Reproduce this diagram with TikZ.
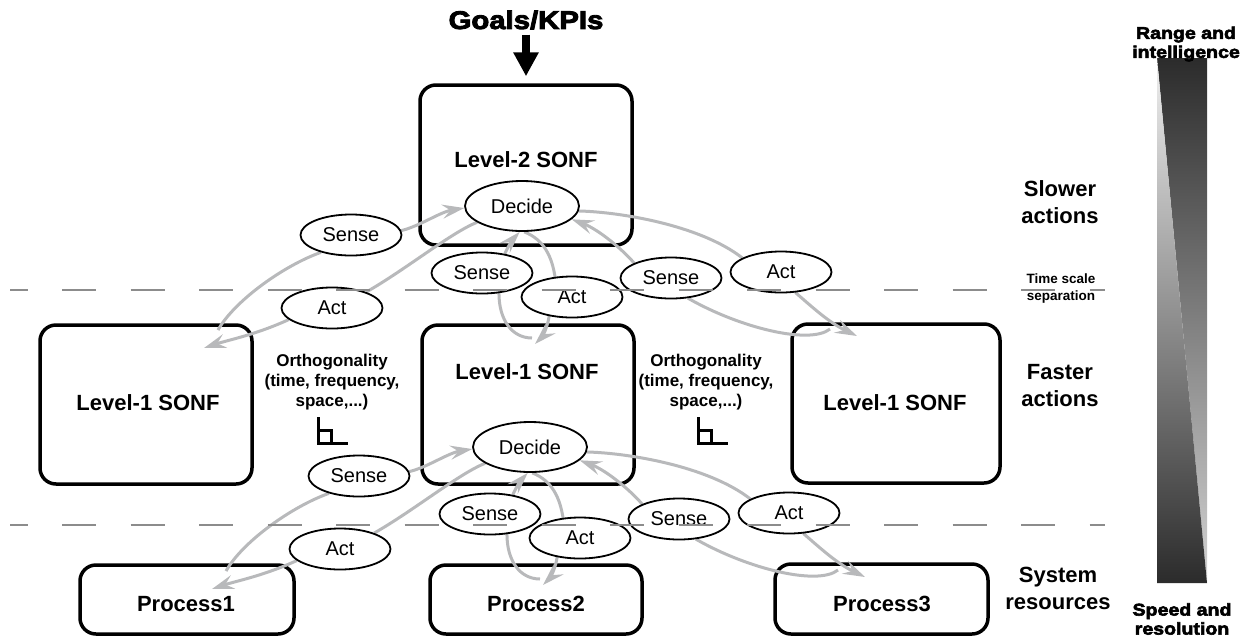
\documentclass[tikz,border=0pt]{standalone}
\usepackage{fontspec}
\setmainfont{Liberation Sans}
\newfontfamily\blk{Liberation Sans}[BoldFeatures={FakeBold=3.5,FakeStretch=1.15}]
\usetikzlibrary{shapes.geometric,arrows.meta}
\pgfdeclarelayer{bg}\pgfdeclarelayer{arr}\pgfdeclarelayer{fg}
\pgfsetlayers{bg,arr,main,fg}
\definecolor{arrgray}{HTML}{B8B9BB}
\definecolor{dashgray}{HTML}{8C8C8C}
\newcommand\labfont{\bfseries\fontsize{22}{27}\selectfont}
\newcommand\ortfont{\bfseries\fontsize{17}{20}\selectfont}
\newcommand\blkfont{\blk\bfseries\fontsize{17}{19}\selectfont}
\tikzset{
  box/.style={draw, line width=3.5pt, rounded corners=16pt, inner sep=0pt},
  ell/.style={ellipse, draw, fill=white, line width=1.8pt, inner sep=0pt,
    minimum width=101pt, minimum height=41pt, font=\fontsize{20}{24}\selectfont},
  dec/.style={ell, minimum width=114pt, minimum height=50pt},
  gline/.style={draw=arrgray, line width=3pt},
  garrow/.style={gline, -{Stealth[length=22pt,width=14pt,inset=8pt]}},
  sepline/.style={draw=dashgray, line width=2pt, dash pattern=on 34pt off 34.5pt, dash phase=16.5pt},
  lbl/.style={font=\labfont, align=center, inner sep=0pt},
  ort/.style={font=\ortfont, align=center, inner sep=0pt},
}
\newcommand\sonfgroup[3]{%
\begin{scope}[shift={(#2,#3)}]
  \node[dec] (#1d) at (522,206) {Decide};
  \node[ell] (#1sa) at (351,235) {Sense};
  \node[ell] (#1aa) at (332,308) {Act};
  \node[ell] (#1sb) at (482,273) {Sense};
  \node[ell] (#1ab) at (572,297) {Act};
  \node[ell] (#1sc) at (671,278) {Sense};
  \node[ell] (#1ac) at (781,272) {Act};
  \coordinate (#1ia) at (218,330);
  \coordinate (#1oa) at (204,348);
  \coordinate (#1ib) at (532,338);
  \coordinate (#1ob) at (535,344);
  \coordinate (#1ic) at (830,329);
  \coordinate (#1oc) at (857,336);
  \begin{pgfonlayer}{arr}
    \draw[gline] (#1ia) .. controls (235,300) and (285,265) .. (#1sa.210);
    \draw[garrow] (#1sa.5) .. controls (420,226) and (440,212) .. (#1d.182);
    \draw[gline] (#1d.200) .. controls (452,232) and (405,270) .. (#1aa.25);
    \draw[garrow] (#1aa.195) .. controls (255,335) and (228,340) .. (#1oa);
    \draw[gline] (#1ib) .. controls (512,338) and (499,320) .. (#1sb.-50);
    \draw[garrow] (#1sb.40) .. controls (508,246) and (514,238) .. (#1d.-95);
    \draw[gline] (#1d.-85) .. controls (545,240) and (552,258) .. (#1ab.130);
    \draw[garrow] (#1ab.-140) .. controls (547,330) and (541,338) .. (#1ob);
    \draw[gline] (#1ic) .. controls (810,345) and (740,328) .. (#1sc.-50);
    \draw[garrow] (#1sc.158) .. controls (625,252) and (600,230) .. (#1d.-15);
    \draw[gline] (#1d.-5) .. controls (620,212) and (700,225) .. (#1ac.160);
    \draw[garrow] (#1ac.-55) .. controls (810,305) and (828,322) .. (#1oc);
  \end{pgfonlayer}
\end{scope}}
\begin{document}
\begin{tikzpicture}[x=1pt, y=-1pt]
\useasboundingbox (0,0) rectangle (1251,638);
% boxes
\begin{pgfonlayer}{bg}
  \node[box, minimum width=212pt, minimum height=160pt] (L2) at (526,165) {};
  \node[box, minimum width=212pt, minimum height=159pt] (L1L) at (146,404.5) {};
  \node[box, minimum width=212pt, minimum height=159pt] (L1M) at (528,404.5) {};
  \node[box, minimum width=208pt, minimum height=159pt] (L1R) at (896,403.5) {};
  \node[box, minimum width=214pt, minimum height=69pt] (P1) at (187,599.5) {};
  \node[box, minimum width=212pt, minimum height=69pt] (P2) at (536,599.5) {};
  \node[box, minimum width=213pt, minimum height=70pt] (P3) at (881.5,599) {};
\end{pgfonlayer}
\node[lbl] (tL2) at (526,160) {Level-2 SONF};
\node[lbl] (tL1L) at (148,403) {Level-1 SONF};
\node[lbl] (tL1M) at (527,372) {Level-1 SONF};
\node[lbl] (tL1R) at (895,403) {Level-1 SONF};
\node[lbl] (tP1) at (186,604) {Process1};
\node[lbl] (tP2) at (536,604) {Process2};
\node[lbl] (tP3) at (882,604) {Process3};
% goals
\node[font=\blk\bfseries\fontsize{25.5}{30}\selectfont, inner sep=0pt] (goals) at (526,20) {Goals/KPIs};
\draw[line width=8pt, -{Triangle[length=24pt,width=24pt]}] ([yshift=-5pt]goals.south) -- ([yshift=7pt]L2.north);
% groups
\sonfgroup{u}{0}{0}
\sonfgroup{w}{8}{241}
% orthogonality
\node[ort] (o1) at (332,382) {Orthogonality\\(time, frequency,\\space,...)};
\node[ort] (o2) at (706,382) {Orthogonality\\(time, frequency,\\space,...)};
\draw[line width=3pt] (318,417) -- (318,443) -- (348,443);
\draw[line width=3pt] (318,430) -- (331,430) -- (331,443);
\draw[line width=3pt] (698,417) -- (698,443) -- (728,443);
\draw[line width=3pt] (698,430) -- (711,430) -- (711,443);
% separation lines
\begin{pgfonlayer}{fg}
  \coordinate (s1a) at (10,290); \coordinate (s1b) at (1105,290);
  \coordinate (s2a) at (10,525); \coordinate (s2b) at (1105,525);
  \draw[sepline] (s1a) -- (s1b);
  \draw[sepline] (s2a) -- (s2b);
\end{pgfonlayer}
% right labels
\node[lbl] (slow) at (1060,202) {Slower\\actions};
\node[font=\bfseries\fontsize{13.5}{17}\selectfont, align=center, inner sep=0pt] (tss) at (1061,289) {Time scale\\separation};
\node[lbl] (fast) at (1060,386) {Faster\\actions};
\node[lbl] (sysr) at (1058,588) {System\\resources};
% gradient bar
\shade[top color=black!83, middle color=black!52, bottom color=black!17] (1157,58) -- (1207,58) -- (1207,583) -- cycle;
\shade[top color=black!6, middle color=black!34, bottom color=black!83] (1157,58) -- (1157,583) -- (1207,583) -- cycle;
\node[font=\blkfont, align=center, inner sep=0pt] (rng) at (1186,44) {Range and\\intelligence};
\node[font=\blkfont, align=center, inner sep=0pt] (spd) at (1182,619) {Speed and\\resolution};
\end{tikzpicture}
\end{document}
